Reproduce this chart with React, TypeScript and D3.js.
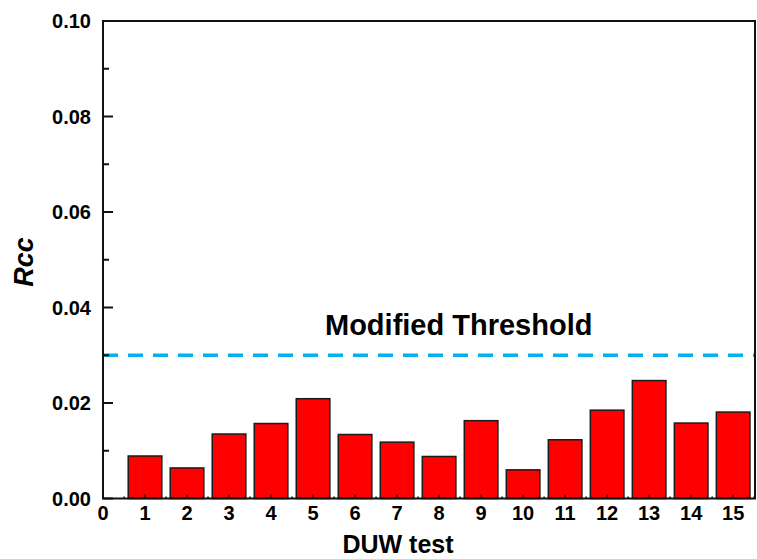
import { useEffect, useRef } from 'react'
import * as d3 from 'd3'

const tests = [1, 2, 3, 4, 5, 6, 7, 8, 9, 10, 11, 12, 13, 14, 15]
const rccValues = [0.0089, 0.0064, 0.0135, 0.0157, 0.0209, 0.0134, 0.0118, 0.0088, 0.0163, 0.006, 0.0123, 0.0185, 0.0247, 0.0158, 0.0181]
const threshold = 0.03
const yTicks = [0, 0.02, 0.04, 0.06, 0.08, 0.1]
const xTicks = [0, 1, 2, 3, 4, 5, 6, 7, 8, 9, 10, 11, 12, 13, 14, 15]

export default function App() {
  const svgRef = useRef<SVGSVGElement>(null)

  useEffect(() => {
    if (!svgRef.current) return
    const svg = d3.select(svgRef.current)
    svg.selectAll('*').remove()

    const left = 103
    const right = 755
    const top = 21
    const bottom = 498.5
    const font = '"Liberation Sans", Arial, sans-serif'

    const x = d3.scaleLinear().domain([0, 15.52]).range([left, right])
    const y = d3.scaleLinear().domain([0, 0.1]).range([bottom, top])
    const barW = x(0.8) - x(0)

    // bars
    svg.append('g')
      .selectAll('rect')
      .data(tests)
      .join('rect')
      .attr('x', (d) => x(d) - barW / 2)
      .attr('y', (d, i) => y(rccValues[i]))
      .attr('width', barW)
      .attr('height', (d, i) => y(0) - y(rccValues[i]))
      .attr('fill', '#ff0000')
      .attr('stroke', '#1a1a1a')
      .attr('stroke-width', 1.5)

    // threshold line
    svg.append('line')
      .attr('x1', x(0))
      .attr('x2', right)
      .attr('y1', y(threshold))
      .attr('y2', y(threshold))
      .attr('stroke', '#00b0f0')
      .attr('stroke-width', 3.5)
      .attr('stroke-dasharray', '15,10')

    svg.append('text')
      .attr('x', 325)
      .attr('y', 335)
      .attr('font-family', font)
      .attr('font-weight', 'bold')
      .attr('font-size', 29)
      .text('Modified Threshold')

    // frame
    svg.append('rect')
      .attr('x', left)
      .attr('y', top)
      .attr('width', right - left)
      .attr('height', bottom - top)
      .attr('fill', 'none')
      .attr('stroke', '#111')
      .attr('stroke-width', 2)

    // y axis ticks (inward)
    const yMinor = d3.range(0.01, 0.1, 0.02)
    svg.append('g')
      .selectAll('line.major')
      .data(yTicks)
      .join('line')
      .attr('x1', left)
      .attr('x2', left + 10)
      .attr('y1', (d) => y(d))
      .attr('y2', (d) => y(d))
      .attr('stroke', '#111')
      .attr('stroke-width', 2)
    svg.append('g')
      .selectAll('line')
      .data(yMinor)
      .join('line')
      .attr('x1', left)
      .attr('x2', left + 6)
      .attr('y1', (d) => y(d))
      .attr('y2', (d) => y(d))
      .attr('stroke', '#111')
      .attr('stroke-width', 2)

    svg.append('g')
      .selectAll('text')
      .data(yTicks)
      .join('text')
      .attr('x', left - 12)
      .attr('y', (d) => y(d) + 7)
      .attr('text-anchor', 'end')
      .attr('font-family', font)
      .attr('font-weight', 'bold')
      .attr('font-size', 20)
      .text((d) => d3.format('.2f')(d))

    // x axis ticks (inward, small)
    svg.append('g')
      .selectAll('line')
      .data(xTicks.slice(1))
      .join('line')
      .attr('x1', (d) => x(d))
      .attr('x2', (d) => x(d))
      .attr('y1', bottom)
      .attr('y2', bottom - 4)
      .attr('stroke', '#111')
      .attr('stroke-width', 1.5)
    svg.append('g')
      .selectAll('line')
      .data(xTicks.map((d) => d + 0.5))
      .join('line')
      .attr('x1', (d) => x(d))
      .attr('x2', (d) => x(d))
      .attr('y1', bottom)
      .attr('y2', bottom - 2)
      .attr('stroke', '#111')
      .attr('stroke-width', 1.5)

    svg.append('g')
      .selectAll('text')
      .data(xTicks)
      .join('text')
      .attr('x', (d) => x(d))
      .attr('y', 520)
      .attr('text-anchor', 'middle')
      .attr('font-family', font)
      .attr('font-weight', 'bold')
      .attr('font-size', 20)
      .text((d) => String(d))

    // axis titles
    svg.append('text')
      .attr('x', 398)
      .attr('y', 553)
      .attr('text-anchor', 'middle')
      .attr('font-family', font)
      .attr('font-weight', 'bold')
      .attr('font-size', 25)
      .text('DUW test')

    svg.append('text')
      .attr('transform', 'translate(33,262) rotate(-90)')
      .attr('text-anchor', 'middle')
      .attr('font-family', font)
      .attr('font-weight', 'bold')
      .attr('font-style', 'italic')
      .attr('font-size', 27)
      .text('Rcc')
  }, [])

  return (
    <svg
      ref={svgRef}
      width={757}
      height={559}
      style={{ position: 'absolute', left: 0, top: 0, background: '#fff' }}
    />
  )
}
